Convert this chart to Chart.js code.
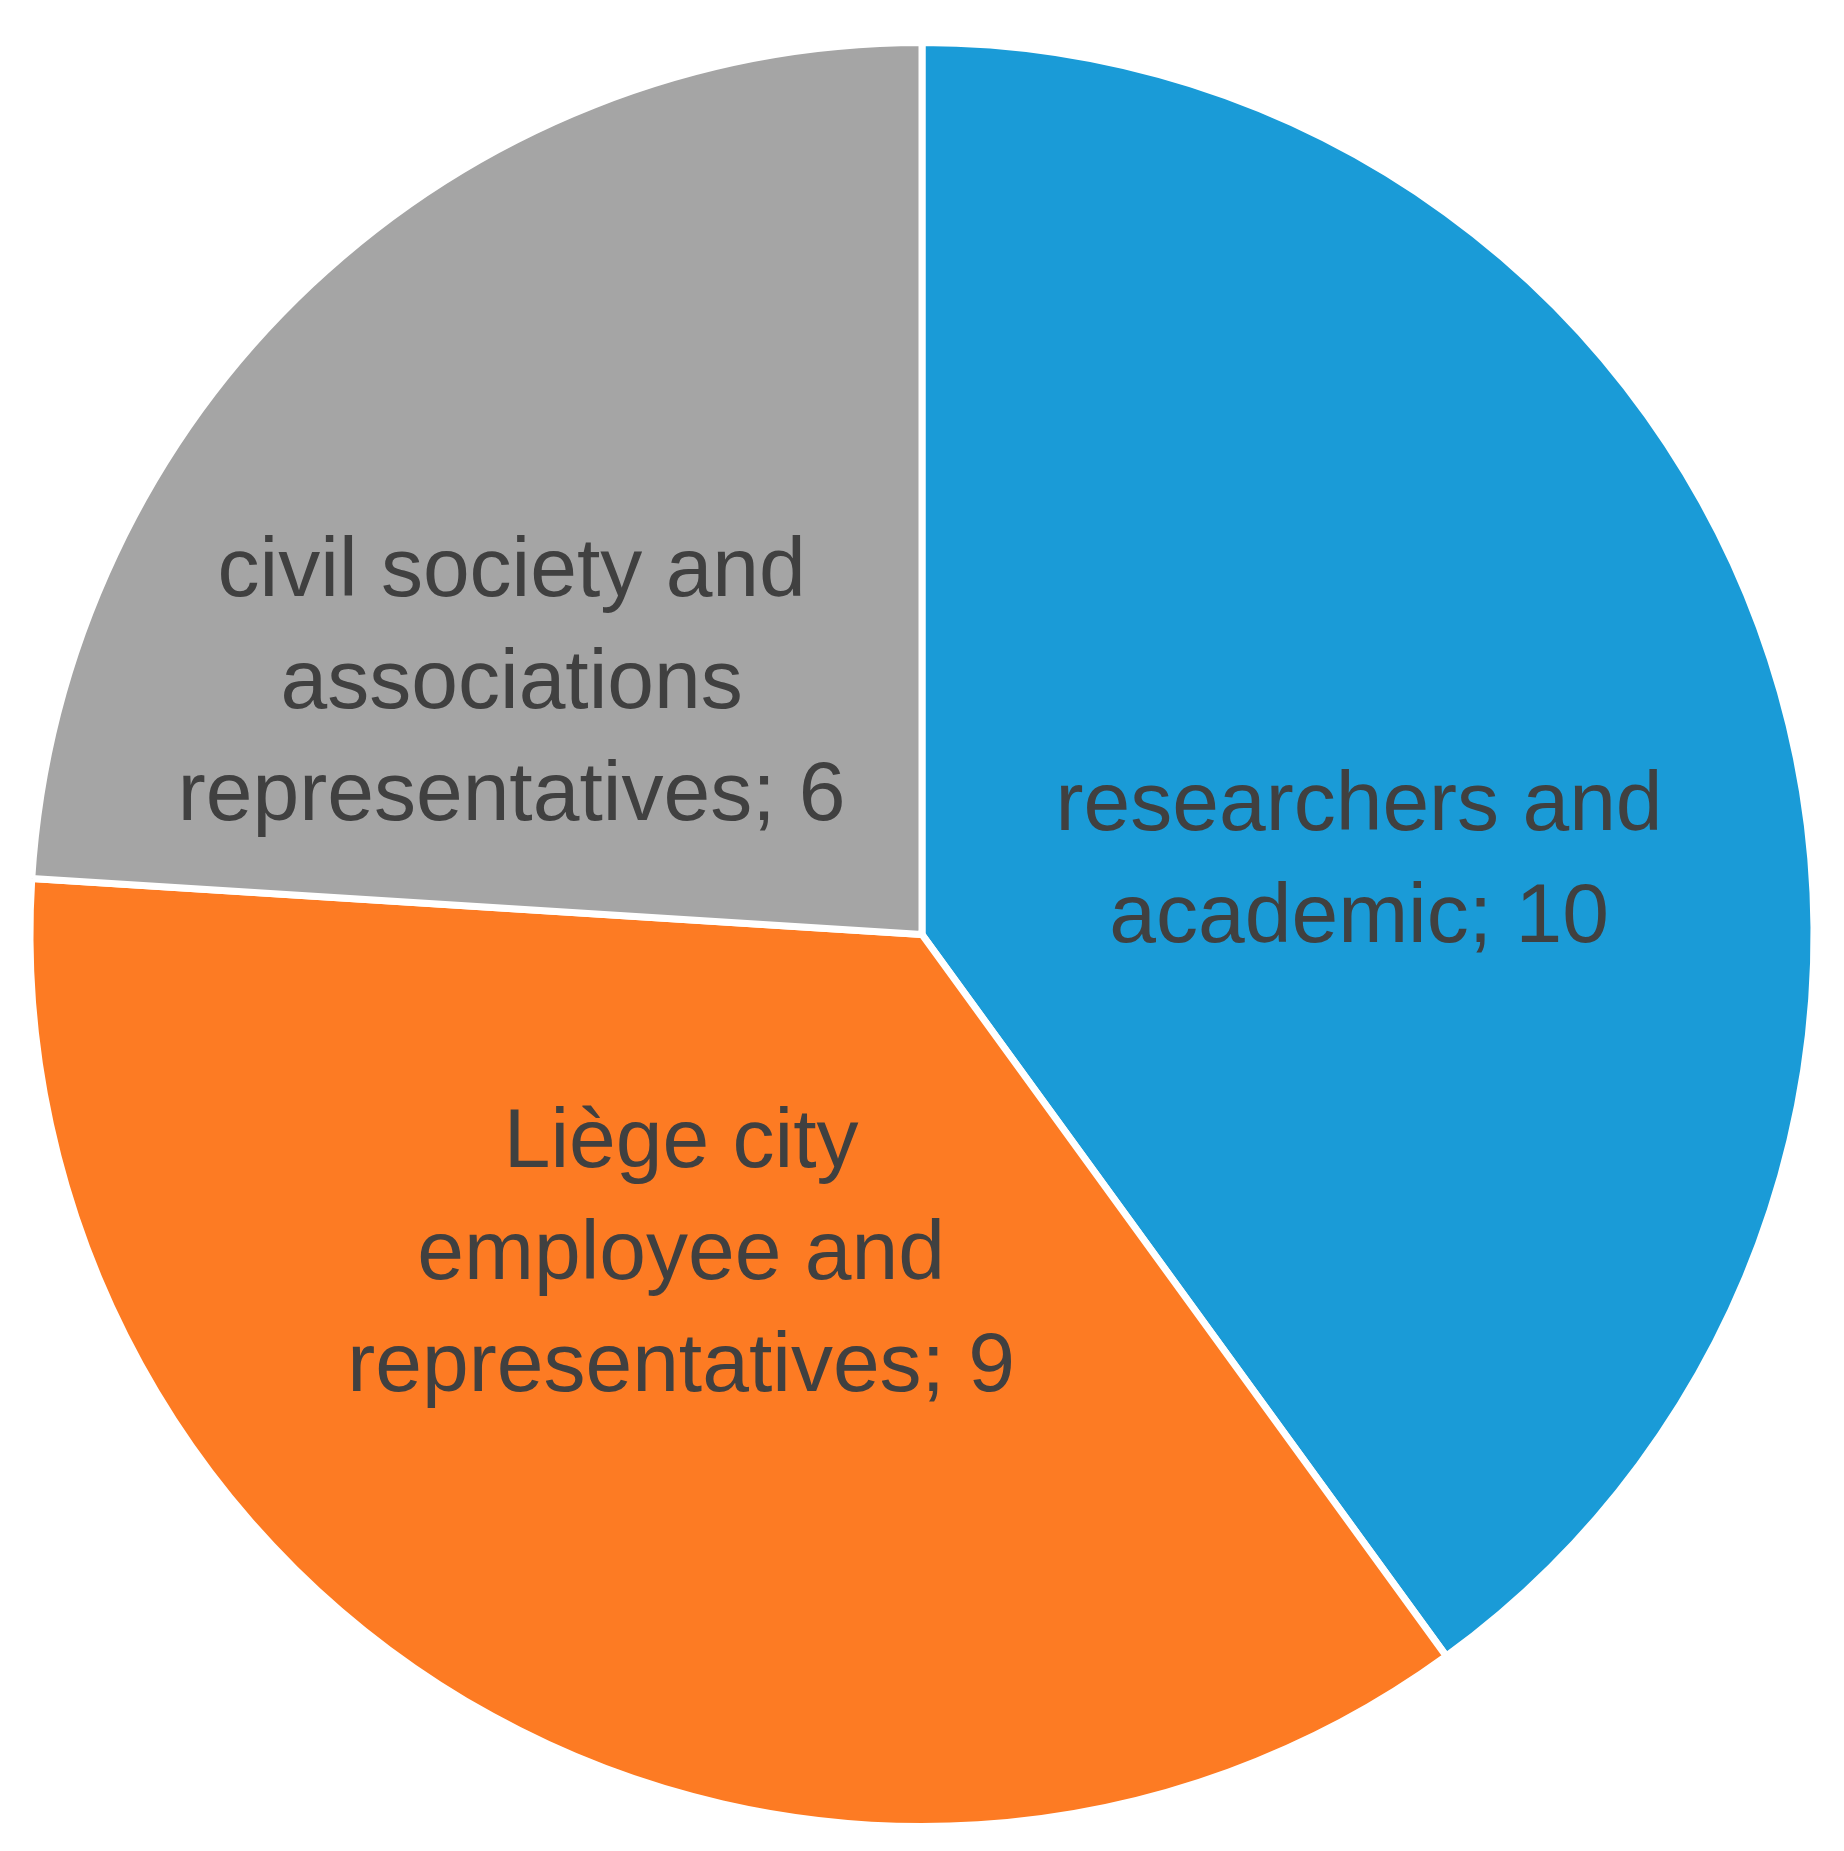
<!DOCTYPE html>
<html><head><meta charset="utf-8">
<script src="https://cdn.jsdelivr.net/npm/chart.js@4/dist/chart.umd.min.js"></script>
<style>html,body{margin:0;padding:0;background:#fff}#wrap{width:1844px;height:1851px}</style>
</head><body><div id="wrap"><canvas id="c"></canvas></div>
<script>
const categories = [["researchers and","academic; 10"],["Liège city","employee and","representatives; 9"],["civil society and","associations","representatives; 6"]];
const values = [10, 9, 6];
const colors = ["#1A9BD7", "#FD7B23", "#A5A5A5"];
const labelOffsets = [[0.49,-0.08],[-0.27,0.36],[-0.46,-0.28]];
const labelPlugin = {
  id: 'lbl',
  afterDatasetsDraw(chart) {
    const ctx = chart.ctx;
    const meta = chart.getDatasetMeta(0);
    ctx.save();
    ctx.font = '84px "Liberation Sans", Arial, sans-serif';
    ctx.fillStyle = '#404040';
    ctx.textAlign = 'center';
    ctx.textBaseline = 'middle';
    meta.data.forEach((arc, i) => {
      const r = arc.outerRadius;
      const cx = arc.x + labelOffsets[i][0]*r, cy = arc.y + labelOffsets[i][1]*r;
      const lines = categories[i];
      const lh = 112;
      lines.forEach((t, k) => ctx.fillText(t, cx, cy + (k - (lines.length-1)/2)*lh));
    });
    ctx.restore();
  }
};
new Chart(document.getElementById('c'), {
  type: 'pie',
  data: { labels: categories.map(l => l.join(' ')), datasets: [{ data: values, backgroundColor: colors, borderColor: '#fff', borderWidth: 7 }] },
  options: {
    responsive: true, maintainAspectRatio: false, animation: false,
    layout: { padding: { top: 39, bottom: 21 } },
    plugins: { legend: { display: false }, tooltip: { enabled: false } }
  },
  plugins: [labelPlugin]
});
</script></body></html>
